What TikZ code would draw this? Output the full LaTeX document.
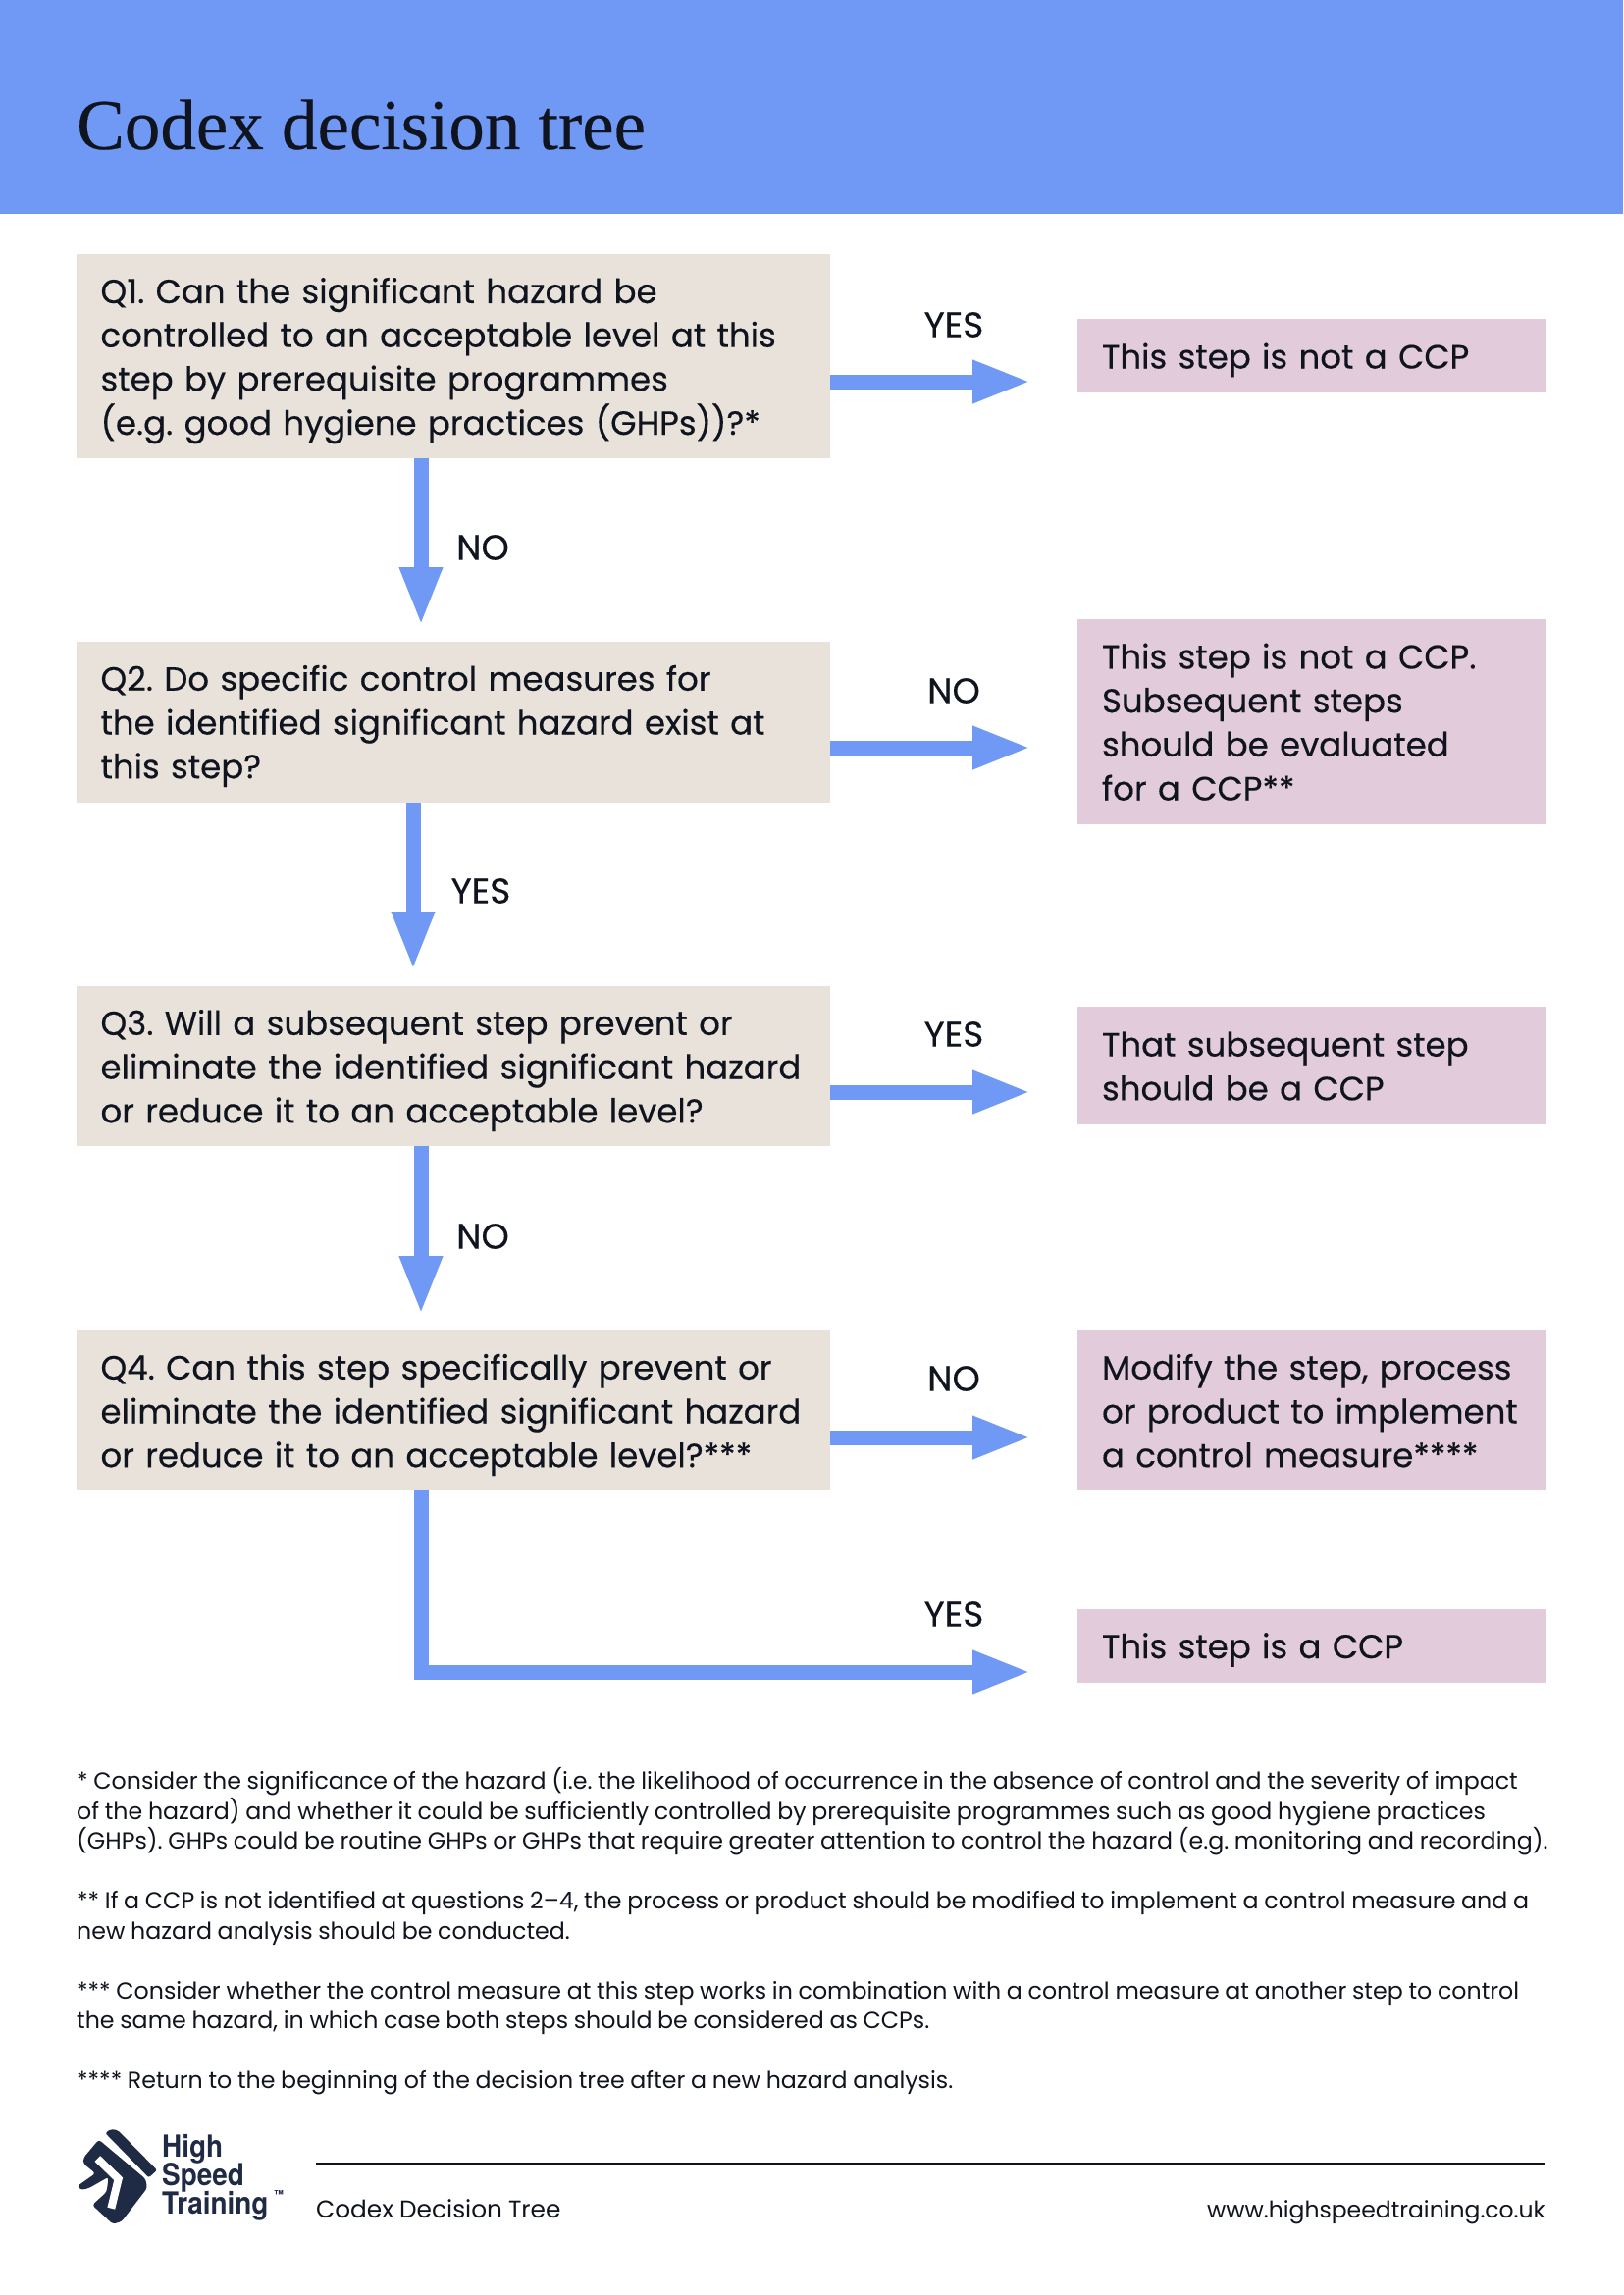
\documentclass[tikz,border=0pt]{standalone}
\usepackage{fontspec}
\setmainfont{Liberation Sans}
\newfontfamily\bodyfont[FakeBold=0.35,WordSpace=0.85]{Poppins}
\newfontfamily\notefont[WordSpace=0.9]{Poppins}
\newfontfamily\titlefont[FakeBold=0.25]{Liberation Serif}
\newfontfamily\logofont[FakeStretch=0.9]{TeX Gyre Heros}
\definecolor{headblue}{HTML}{7098F5}
\definecolor{flowblue}{HTML}{7098F5}
\definecolor{qbeige}{HTML}{E8E2DB}
\definecolor{rpink}{HTML}{E2CBDB}
\definecolor{inkc}{HTML}{10141F}
\definecolor{navyc}{HTML}{1F2A44}
\usetikzlibrary{arrows.meta}
\newcommand{\topstrut}{\rule{0pt}{41pt}}
\newcommand{\botstrut}{\rule[-15pt]{0pt}{15pt}}
\newcommand{\nstrut}{\rule[-7pt]{0pt}{23pt}}
\tikzset{
 x=1pt,y=-1pt,
 txt/.style={font=\bodyfont\fontsize{34}{44.7}\selectfont,text=inkc,align=left,execute at begin node={\frenchspacing\topstrut},execute at end node={\botstrut}},
 qbox/.style={fill=qbeige,anchor=north west,inner xsep=24.5pt,inner ysep=0pt,outer sep=0pt,text width=719pt,minimum height=#1,txt},
 rbox/.style={fill=rpink,anchor=north west,inner xsep=25pt,inner ysep=0pt,outer sep=0pt,text width=428pt,minimum height=#1,txt},
 flow/.style={draw=flowblue,line width=15pt,-{Triangle[length=60pt,width=40pt]}},
 lab/.style={font=\bodyfont\fontsize{36}{40}\selectfont,text=inkc,inner sep=0pt},
 note/.style={font=\notefont\fontsize{23.7}{30.7}\selectfont,text=inkc,anchor=north west,inner sep=0pt,align=left,execute at begin node={\frenchspacing\nstrut}},
 logotext/.style={font=\logofont\bfseries\fontsize{31}{29}\selectfont,text=navyc,anchor=base west,inner sep=0pt},
}
\begin{document}
\begin{tikzpicture}
\useasboundingbox (0,0) rectangle (1654,2339);
\fill[white] (0,0) rectangle (1654,2339);
\fill[headblue] (0,0) rectangle (1654,218);
\node[anchor=base west,inner sep=0pt,font=\titlefont\fontsize{73}{73}\selectfont,text=inkc] (title) at (78,152) {Codex decision tree};
% questions
\node[qbox=208pt] (q1) at (78,259) {Q1. Can the significant hazard be\\controlled to an acceptable level at this\\step by prerequisite programmes\\(e.g. good hygiene practices (GHPs))?*};
\node[qbox=164pt] (q2) at (78,653.5) {Q2. Do specific control measures for\\the identified significant hazard exist at\\this step?};
\node[qbox=163pt] (q3) at (78,1005) {Q3. Will a subsequent step prevent or\\eliminate the identified significant hazard\\or reduce it to an acceptable level?};
\node[qbox=163pt] (q4) at (78,1356) {Q4. Can this step specifically prevent or\\eliminate the identified significant hazard\\or reduce it to an acceptable level?***};
% results
\node[rbox=75pt] (r1) at (1098,325) {This step is not a CCP};
\node[rbox=209pt] (r2) at (1098,631) {This step is not a CCP.\\Subsequent steps\\should be evaluated\\for a CCP**};
\node[rbox=120pt] (r3) at (1098,1026) {That subsequent step\\should be a CCP};
\node[rbox=163pt] (r4) at (1098,1356) {Modify the step, process\\or product to implement\\a control measure****};
\node[rbox=75pt] (r5) at (1098,1639.5) {This step is a CCP};
% connector ends
\coordinate (a1) at (429,638);
\coordinate (a2) at (421,989);
\coordinate (a3) at (429,1340);
\coordinate (b1) at (1051,389);
\coordinate (b2) at (1051,762);
\coordinate (b3) at (1051,1113);
\coordinate (b4) at (1051,1465);
\coordinate (b5) at (1051,1704);
\coordinate (c5) at (429.5,1704);
\draw[flow] (a1 |- q1.south) -- (a1);
\draw[flow] (a2 |- q2.south) -- (a2);
\draw[flow] (a3 |- q3.south) -- (a3);
\draw[flow] (b1 -| q1.east) -- (b1);
\draw[flow] (b2 -| q2.east) -- (b2);
\draw[flow] (b3 -| q3.east) -- (b3);
\draw[flow] (b4 -| q4.east) -- (b4);
\draw[flow] (c5 |- q4.south) -- (c5) -- (b5);
% labels
\node[lab] (l1) at (972,331) {YES};
\node[lab] (l2) at (492,558) {NO};
\node[lab] (l3) at (972,704) {NO};
\node[lab] (l4) at (490,908) {YES};
\node[lab] (l5) at (972,1054) {YES};
\node[lab] (l6) at (492,1260) {NO};
\node[lab] (l7) at (972,1405) {NO};
\node[lab] (l8) at (972,1645) {YES};
% notes
\node[note] (n1) at (78,1801) {* Consider the significance of the hazard (i.e. the likelihood of occurrence in the absence of control and the severity of impact\\of the hazard) and whether it could be sufficiently controlled by prerequisite programmes such as good hygiene practices\\(GHPs). GHPs could be routine GHPs or GHPs that require greater attention to control the hazard (e.g. monitoring and recording).};
\node[note] (n2) at (78,1927) {** If a CCP is not identified at questions 2–4, the process or product should be modified to implement a control measure and a\\new hazard analysis should be conducted.};
\node[note] (n3) at (78,2019) {*** Consider whether the control measure at this step works in combination with a control measure at another step to control\\the same hazard, in which case both steps should be considered as CCPs.};
\node[note] (n4) at (78,2110) {**** Return to the beginning of the decision tree after a new hazard analysis.};
% footer
\coordinate (f1) at (322,2205);
\coordinate (f2) at (1575,2205);
\draw[inkc,line width=3pt] (f1) -- (f2);
\node[note,anchor=base west,font=\notefont\fontsize{24.8}{30}\selectfont] (ft1) at (322,2260) {Codex Decision Tree};
\node[note,anchor=base east,font=\notefont\fontsize{23.5}{30}\selectfont] (ft2) at (1575,2260) {www.highspeedtraining.co.uk};
% logo
\begin{scope}[shift={(70,2160)},x=0.3333pt,y=-0.3333pt]
\fill[navyc,rounded corners=2pt] (112,42) -- (128,30) -- (150,33) -- (270,155) -- (245,178) -- cycle;
\fill[navyc,rounded corners=3pt] (92,62) -- (235,182) -- (240,210) -- (162,312) -- (135,320) -- (72,262) -- (116,222) -- (122,176) -- (62,210) -- (40,216) -- (25,205) -- (82,165) -- (45,135) -- (45,118) -- cycle;
\draw[white,line width=8pt,line cap=butt,miter limit=10] (88,120) -- (152,182) -- (130,272);
\end{scope}
\node[logotext] (lg1) at (165,2198) {High};
\node[logotext] (lg2) at (165,2227) {Speed};
\node[logotext] (lg3) at (165,2256) {Training};
\node[font=\logofont\bfseries\fontsize{11}{11}\selectfont,text=navyc,anchor=north west,inner sep=0pt] (lg4) at (279,2232) {™};
\end{tikzpicture}
\end{document}
